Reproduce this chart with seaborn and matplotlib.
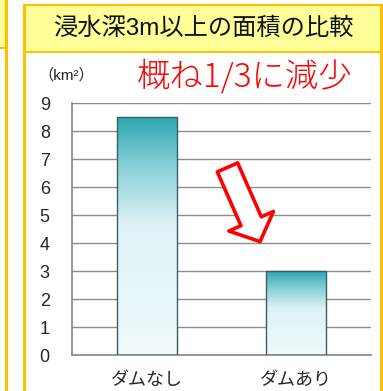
"""
Bar chart: area flooded deeper than 3 m, with and without the dam
"""

import pandas as pd
import numpy as np
import seaborn as sns
import matplotlib.pyplot as plt
from matplotlib.patches import Rectangle
from matplotlib.colors import LinearSegmentedColormap

categories = ["ダムなし", "ダムあり"]
areas = [8.5, 3.0]
y_ticks = list(range(0, 10))
title = "浸水深3m以上の面積の比較"
note = "概ね1/3に減少"
unit = "（km²）"

W, H = 383, 391
ORANGE = "#FFC000"
YELLOW = "#FFFF99"

sns.set_style("white")
plt.rcParams["font.family"] = ["Liberation Sans", "Noto Sans CJK JP"]

fig = plt.figure(figsize=(W / 100, H / 100), dpi=100)


def px_rect(x0, y0, x1, y1, **kw):
    """Rectangle given in pixel coordinates (origin top left)"""
    r = Rectangle((x0 / W, 1 - y1 / H), (x1 - x0) / W, (y1 - y0) / H,
                  transform=fig.transFigure, **kw)
    fig.add_artist(r)
    return r


# panel decoration (left neighbour panel + main panel frame)
px_rect(0, 0, 6, 47, facecolor=YELLOW, edgecolor="none")
px_rect(0, 47, 6, 49, facecolor=ORANGE, edgecolor="none")
px_rect(5, 0, 8, H, facecolor=ORANGE, edgecolor="none")

px_rect(25, 6, 380, 51, facecolor=YELLOW, edgecolor="none")
px_rect(25, 51, 380, 53, facecolor=ORANGE, edgecolor="none")
px_rect(23, 4, 383, 6, facecolor=ORANGE, edgecolor="none")
px_rect(23, 4, 26, H, facecolor=ORANGE, edgecolor="none")
px_rect(380, 4, 383, H, facecolor=ORANGE, edgecolor="none")

fig.text(203 / W, 1 - 29 / H, title, ha="center", va="center",
         fontsize=17.5, color="#111111")
fig.text(137 / W, 1 - 77 / H, note, ha="left", va="center",
         fontsize=24, color="#FF0000", fontweight="light",
         family=["Noto Sans CJK JP", "DejaVu Sans"])
fig.text(66 / W, 1 - 75 / H, unit, ha="center", va="center",
         fontsize=11, color="#222222")

ax = fig.add_axes([72 / W, 36 / H, 299 / W, 252 / H])
df = pd.DataFrame({"case": categories, "area": areas})
sns.barplot(data=df, x="case", y="area", width=0.4, ax=ax,
            facecolor="none", edgecolor="#3A5F62", linewidth=1.0, zorder=3)

# vertical gradient inside each bar
cmap = LinearSegmentedColormap.from_list(
    "bar", [(0, "#EEF9FB"), (0.55, "#DFF3F6"), (0.8, "#86CFD5"), (1, "#2DA8B2")])
grad = np.linspace(0, 1, 256).reshape(-1, 1)
for p in ax.patches:
    x0, y0 = p.get_x(), p.get_y()
    im = ax.imshow(grad, cmap=cmap, origin="lower", aspect="auto",
                   extent=[x0, x0 + p.get_width(), y0, y0 + p.get_height()],
                   zorder=2.5)
    im.set_clip_path(p)

ax.set_xlim(-0.5, 1.5)
ax.set_ylim(0, 9)
ax.set_yticks(y_ticks)
ax.yaxis.grid(True, color="#8C8C8C", linewidth=1.0)
ax.set_axisbelow(True)

# excel-like category ticks at boundaries, labels in the middle
ax.set_xticks([-0.5, 0.5, 1.5])
ax.set_xticklabels([])
ax.set_xticks([0, 1], minor=True)
ax.set_xticklabels(categories, minor=True)
ax.tick_params(axis="x", which="major", length=5, color="#868686", width=1)
ax.tick_params(axis="x", which="minor", length=0, pad=12, labelsize=13)
ax.tick_params(axis="y", length=4, color="#868686", width=1, labelsize=13,
               pad=12)
ax.set_xlabel("")
ax.set_ylabel("")

for s in ["top", "right"]:
    ax.spines[s].set_visible(False)
for s in ["left", "bottom"]:
    ax.spines[s].set_color("#868686")
    ax.spines[s].set_linewidth(1.2)

# hollow red arrow
ax.annotate("", xy=(0.758, 4.05), xytext=(0.54, 6.7),
            arrowprops=dict(arrowstyle="simple,head_length=1.6,head_width=3.5,tail_width=1.6",
                            mutation_scale=10, facecolor="white", edgecolor="#FF0000",
                            linewidth=2.6, shrinkA=0, shrinkB=0),
            zorder=4)

fig.savefig("out.png", dpi=100)
